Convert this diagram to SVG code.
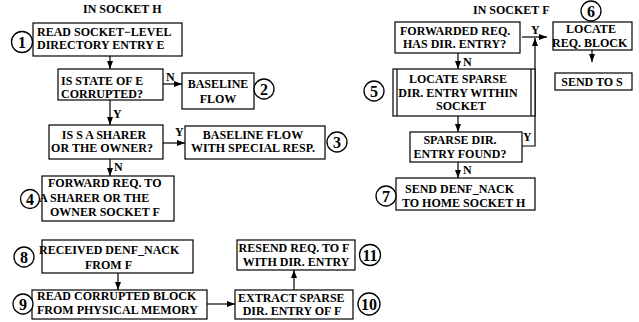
<svg xmlns="http://www.w3.org/2000/svg" width="639" height="322" viewBox="0 0 639 322">
<defs>
<style>
text{font-family:"Liberation Serif","Times New Roman",serif;font-weight:bold;font-size:12px;fill:#000}
.box{fill:#fff;stroke:#000;stroke-width:1.2}
.c{fill:#fff;stroke:#000;stroke-width:1.3}
.num{font-size:16px;text-anchor:middle}
.m{text-anchor:middle}
.ln{fill:none;stroke:#000;stroke-width:1.2}
.lbl{font-size:12px}
</style>
<marker id="ah" viewBox="0 0 8 6" refX="8" refY="3" markerWidth="8" markerHeight="6" markerUnits="userSpaceOnUse" orient="auto">
<path d="M0,0 L8,3 L0,6 z" fill="#000"/>
</marker>
</defs>
<rect width="639" height="322" fill="#fff"/>

<text x="83" y="12.5">IN SOCKET H</text>
<text x="473" y="14">IN SOCKET F</text>

<g id="connectors">
<line class="ln" x1="110" y1="56" x2="110" y2="69" marker-end="url(#ah)"/>
<line class="ln" x1="163" y1="84" x2="182" y2="84" marker-end="url(#ah)"/>
<text class="lbl" x="166" y="81">N</text>
<line class="ln" x1="110" y1="100" x2="110" y2="125" marker-end="url(#ah)"/>
<text class="lbl" x="113" y="118">Y</text>
<line class="ln" x1="163" y1="143" x2="185" y2="143" marker-end="url(#ah)"/>
<text class="lbl" x="175" y="136">Y</text>
<line class="ln" x1="110" y1="159" x2="110" y2="176" marker-end="url(#ah)"/>
<text class="lbl" x="114" y="171">N</text>
<line class="ln" x1="118" y1="273" x2="118" y2="290" marker-end="url(#ah)"/>
<line class="ln" x1="207" y1="304" x2="235" y2="304" marker-end="url(#ah)"/>
<line class="ln" x1="294" y1="290" x2="294" y2="270" marker-end="url(#ah)"/>
<line class="ln" x1="522" y1="37" x2="547" y2="37" marker-end="url(#ah)"/>
<text class="lbl" x="531" y="34">Y</text>
<polyline class="ln" points="522,146 535,146 535,38" marker-end="url(#ah)"/>
<text class="lbl" x="523" y="141">Y</text>
<line class="ln" x1="458" y1="53" x2="458" y2="69" marker-end="url(#ah)"/>
<text class="lbl" x="463" y="66">N</text>
<line class="ln" x1="458" y1="116" x2="458" y2="132" marker-end="url(#ah)"/>
<line class="ln" x1="458" y1="162" x2="458" y2="178" marker-end="url(#ah)"/>
<text class="lbl" x="463" y="174">N</text>
<line class="ln" x1="592" y1="50" x2="592" y2="62" marker-end="url(#ah)"/>
</g>

<g id="n1">
<rect class="box" x="33" y="23" width="149" height="33"/>
<text x="37" y="36">READ SOCKET−LEVEL</text>
<text x="37" y="49">DIRECTORY ENTRY E</text>
<circle class="c" cx="22" cy="42" r="10.5"/>
<text class="num" x="22" y="48">1</text>
</g>

<g id="n_state">
<rect class="box" x="58" y="69" width="105" height="31"/>
<text x="61" y="84.5">IS STATE OF E</text>
<text x="61" y="98">CORRUPTED?</text>
</g>

<g id="n2">
<rect class="box" x="182" y="73" width="72" height="36"/>
<text class="m" x="218" y="88">BASELINE</text>
<text class="m" x="218" y="103">FLOW</text>
<circle class="c" cx="264" cy="89" r="10"/>
<text class="num" x="264" y="95">2</text>
</g>

<g id="n_sharer">
<rect class="box" x="49" y="125" width="114" height="34"/>
<text class="m" x="104" y="139">IS S A SHARER</text>
<text class="m" x="102" y="152">OR THE OWNER?</text>
</g>

<g id="n3">
<rect class="box" x="185" y="126" width="140" height="33"/>
<text class="m" x="253" y="139">BASELINE FLOW</text>
<text class="m" x="253" y="152">WITH SPECIAL RESP.</text>
<circle class="c" cx="337" cy="142" r="10"/>
<text class="num" x="337" y="148">3</text>
</g>

<g id="n4">
<rect class="box" x="42" y="176" width="132" height="45"/>
<text x="48" y="187">FORWARD REQ. TO</text>
<text x="39" y="202">A SHARER OR THE</text>
<text x="50" y="216">OWNER SOCKET F</text>
<circle class="c" cx="30" cy="199" r="9.5"/>
<text class="num" x="30" y="205">4</text>
</g>

<g id="n8">
<rect class="box" x="42" y="240" width="151" height="33"/>
<text x="39" y="254">RECEIVED DENF_NACK</text>
<text x="85" y="269">FROM F</text>
<circle class="c" cx="24" cy="257" r="10"/>
<text class="num" x="24" y="263">8</text>
</g>

<g id="n9">
<rect class="box" x="32" y="290" width="175" height="29"/>
<text x="37" y="300">READ CORRUPTED BLOCK</text>
<text x="37" y="313.5">FROM PHYSICAL MEMORY</text>
<circle class="c" cx="23" cy="304" r="10"/>
<text class="num" x="23" y="310">9</text>
</g>

<g id="n10">
<rect class="box" x="235" y="290" width="118" height="29"/>
<text x="238" y="301.5">EXTRACT SPARSE</text>
<text class="m" x="292" y="315">DIR. ENTRY OF F</text>
<circle class="c" cx="369" cy="304" r="11"/>
<text class="num" x="369" y="310">10</text>
</g>

<g id="n11">
<rect class="box" x="237" y="240" width="118" height="30"/>
<text class="m" x="294" y="252">RESEND REQ. TO F</text>
<text class="m" x="296" y="266">WITH DIR. ENTRY</text>
<circle class="c" cx="370" cy="255" r="10.5"/>
<text class="num" x="370" y="261">11</text>
</g>

<g id="n_fwd">
<rect class="box" x="395" y="22" width="125" height="31"/>
<text x="400" y="34.5">FORWARDED REQ.</text>
<text x="403" y="48">HAS DIR. ENTRY?</text>
</g>

<g id="n6">
<rect class="box" x="553" y="22" width="79" height="28"/>
<text class="m" x="591" y="33">LOCATE</text>
<text x="552" y="47">REQ. BLOCK</text>
<circle class="c" cx="591" cy="11" r="10"/>
<text class="num" x="591" y="17">6</text>
</g>

<g id="n_send_s">
<rect class="box" x="555" y="73" width="77" height="17"/>
<text class="m" x="592" y="86">SEND TO S</text>
</g>

<g id="n5">
<rect class="box" x="393" y="69" width="142" height="47"/>
<line class="ln" x1="397" y1="69" x2="397" y2="116"/>
<line class="ln" x1="531" y1="69" x2="531" y2="116"/>
<text class="m" x="458" y="83">LOCATE SPARSE</text>
<text class="m" x="458" y="97">DIR. ENTRY WITHIN</text>
<text class="m" x="461" y="110">SOCKET</text>
<circle class="c" cx="374" cy="91" r="10"/>
<text class="num" x="374" y="97">5</text>
</g>

<g id="n_found">
<rect class="box" x="410" y="132" width="112" height="30"/>
<text class="m" x="460" y="144">SPARSE DIR.</text>
<text class="m" x="460" y="158">ENTRY FOUND?</text>
</g>

<g id="n7">
<rect class="box" x="396" y="178" width="139" height="32"/>
<text x="405" y="193">SEND DENF_NACK</text>
<text x="402" y="207">TO HOME SOCKET H</text>
<circle class="c" cx="386" cy="196" r="10"/>
<text class="num" x="386" y="202">7</text>
</g>
</svg>
